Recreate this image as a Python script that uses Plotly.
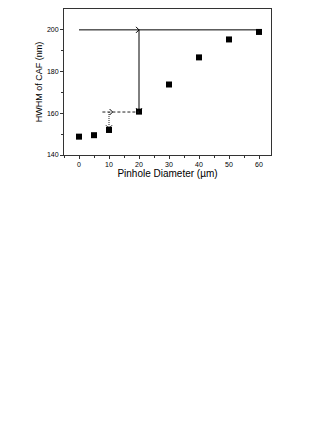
import plotly.graph_objects as go

# pinhole diameter (um) vs HWHM of CAF (nm)
diameter = [0, 5, 10, 20, 30, 40, 50, 60]
hwhm = [148.8, 149.5, 152.0, 160.8, 173.8, 186.8, 195.4, 199.0]

x_ticks = [0, 10, 20, 30, 40, 50, 60]
y_ticks = [140, 160, 180, 200]

fig = go.Figure()
fig.add_trace(go.Scatter(x=diameter, y=hwhm, mode="markers",
                         marker=dict(symbol="square", size=6, color="black"),
                         showlegend=False))

# guide lines
line_solid = dict(color="black", width=1)
fig.add_shape(type="line", x0=0, y0=200, x1=60, y1=200, line=line_solid)
fig.add_shape(type="line", x0=20, y0=200, x1=20, y1=161, line=line_solid)
fig.add_shape(type="line", x0=7.8, y0=160.6, x1=20, y1=160.6,
              line=dict(color="#222", width=1, dash="3px,2px"))
fig.add_shape(type="line", x0=10, y0=160.6, x1=10, y1=152.8,
              line=dict(color="#222", width=1, dash="1px,1px"))

# open chevron arrow heads, drawn in pixels around the data point
chevrons = {
    "right": "M-3,-3 L0,0 L-3,3",
    "down": "M-3,3 L0,0 L3,3",
}

def head(x, y, direction):
    fig.add_shape(type="path", xref="x", yref="y",
                  xsizemode="pixel", ysizemode="pixel", xanchor=x, yanchor=y,
                  path=chevrons[direction], line=dict(color="black", width=1))

head(20, 200, "right")
head(20, 161, "down")
head(11.2, 160.6, "right")
head(10, 152.8, "down")

axis_common = dict(showline=True, linecolor="#333", linewidth=1, mirror=True,
                   ticks="outside", ticklen=3, tickcolor="#333", showgrid=False,
                   zeroline=False, tickfont=dict(size=7, color="black"))

fig.update_xaxes(range=[-5, 64], tickvals=x_ticks,
                 minor=dict(tickvals=[-5, 5, 15, 25, 35, 45, 55], ticks="outside", ticklen=2, tickcolor="#333"),
                 title=dict(text="Pinhole Diameter (µm)", font=dict(size=10, color="black"), standoff=2),
                 **axis_common)
fig.update_yaxes(range=[140, 210], tickvals=y_ticks,
                 minor=dict(tickvals=[150, 170, 190], ticks="outside", ticklen=2, tickcolor="#333"),
                 title=dict(text="HWHM of CAF (nm)", font=dict(size=9, color="black"), standoff=2),
                 **axis_common)

fig.update_layout(width=332, height=430, template="plotly_white",
                  plot_bgcolor="white", paper_bgcolor="white",
                  font=dict(family="Arial, Liberation Sans, sans-serif"),
                  margin=dict(l=56, r=69, t=1, b=283))

fig.write_html("out.html")
